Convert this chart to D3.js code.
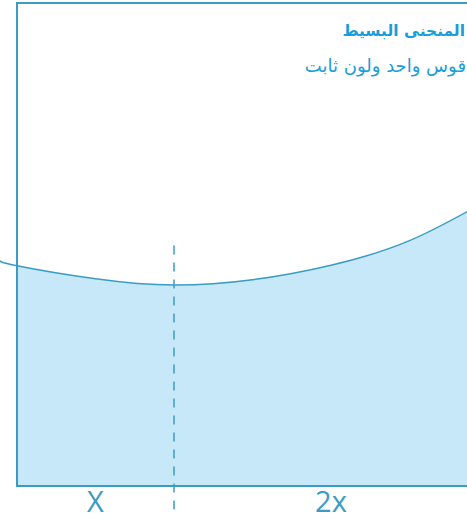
<!DOCTYPE html>
<html>
<head>
<meta charset="utf-8">
<script src="https://cdn.jsdelivr.net/npm/d3@7"></script>
<style>
  html, body { margin: 0; padding: 0; background: #fff; overflow: hidden; }
</style>
</head>
<body>
<div id="chart"></div>
<script>
// curve (x in "X" units, y in % of frame height)
var curveX = [-0.11, 0, 0.5, 1, 1.5, 2, 2.5, 3];
var curveY = [46.7, 45.6, 42.9, 41.6, 42.7, 45.7, 50.8, 59.2];
var segments = [{label: "X", from: 0, to: 1}, {label: "2x", from: 1, to: 3}];
var markerX = [1];
var title = "المنحنى البسيط";
var subtitle = "قوس واحد ولون ثابت";

var width = 467, height = 520;
var margin = {top: 3, left: 17, bottom: 34};
var frameW = 471;
var frameH = height - margin.top - margin.bottom;

var lineColour = "#3a9cc2";
var fillColour = "#c6e8f8";
var textColour = "#1a9dd9";

var svg = d3.select("#chart").append("svg")
  .attr("width", width)
  .attr("height", height);

var g = svg.append("g")
  .attr("transform", "translate(" + margin.left + "," + margin.top + ")");

var x = d3.scaleLinear().domain([0, 3]).range([0, frameW]);
var y = d3.scaleLinear().domain([0, 100]).range([frameH, 0]);

var pts = curveX.map(function(d, i) { return [d, curveY[i]]; });

//clip for the fill
svg.append("clipPath").attr("id", "frameClip")
  .append("rect")
  .attr("x", 0).attr("y", 0)
  .attr("width", frameW).attr("height", frameH);

var area = d3.area()
  .x(function(d) { return x(d[0]); })
  .y0(y(0))
  .y1(function(d) { return y(d[1]); })
  .curve(d3.curveNatural);

g.append("path")
  .datum(pts)
  .attr("clip-path", "url(#frameClip)")
  .attr("d", area)
  .attr("fill", fillColour);

var line = d3.line()
  .x(function(d) { return x(d[0]); })
  .y(function(d) { return y(d[1]); })
  .curve(d3.curveNatural);

g.append("path")
  .datum(pts)
  .attr("d", line)
  .attr("fill", "none")
  .attr("stroke", lineColour)
  .attr("stroke-width", 1.5);

//frame
g.append("path")
  .attr("d", "M" + frameW + ",0H0V" + frameH + "H" + frameW)
  .attr("fill", "none")
  .attr("stroke", lineColour)
  .attr("stroke-width", 2);

//dashed marker
g.selectAll(".marker")
  .data(markerX)
  .enter()
  .append("line")
  .attr("class", "marker")
  .attr("x1", function(d) { return x(d); })
  .attr("x2", function(d) { return x(d); })
  .attr("y1", y(49.8))
  .attr("y2", frameH + 29)
  .attr("stroke", lineColour)
  .attr("stroke-width", 1.5)
  .attr("stroke-dasharray", "9,8");

//segment labels
g.selectAll(".segLabel")
  .data(segments)
  .enter()
  .append("text")
  .attr("class", "segLabel")
  .attr("x", function(d) { return x((d.from + d.to) / 2); })
  .attr("y", frameH + 26)
  .attr("text-anchor", "middle")
  .style("font-family", "'Open Sans'")
  .style("font-size", "29px")
  .style("fill", lineColour)
  .text(function(d) { return d.label; });

//title and subtitle
svg.append("text")
  .attr("x", 465)
  .attr("y", 36)
  .attr("text-anchor", "end")
  .style("font-family", "'DejaVu Sans'")
  .style("font-weight", "bold")
  .style("font-size", "15.5px")
  .style("fill", textColour)
  .text(title);

svg.append("text")
  .attr("x", 466)
  .attr("y", 72)
  .attr("text-anchor", "end")
  .style("font-family", "'DejaVu Sans'")
  .style("font-size", "18px")
  .style("fill", textColour)
  .text(subtitle);
</script>
</body>
</html>
